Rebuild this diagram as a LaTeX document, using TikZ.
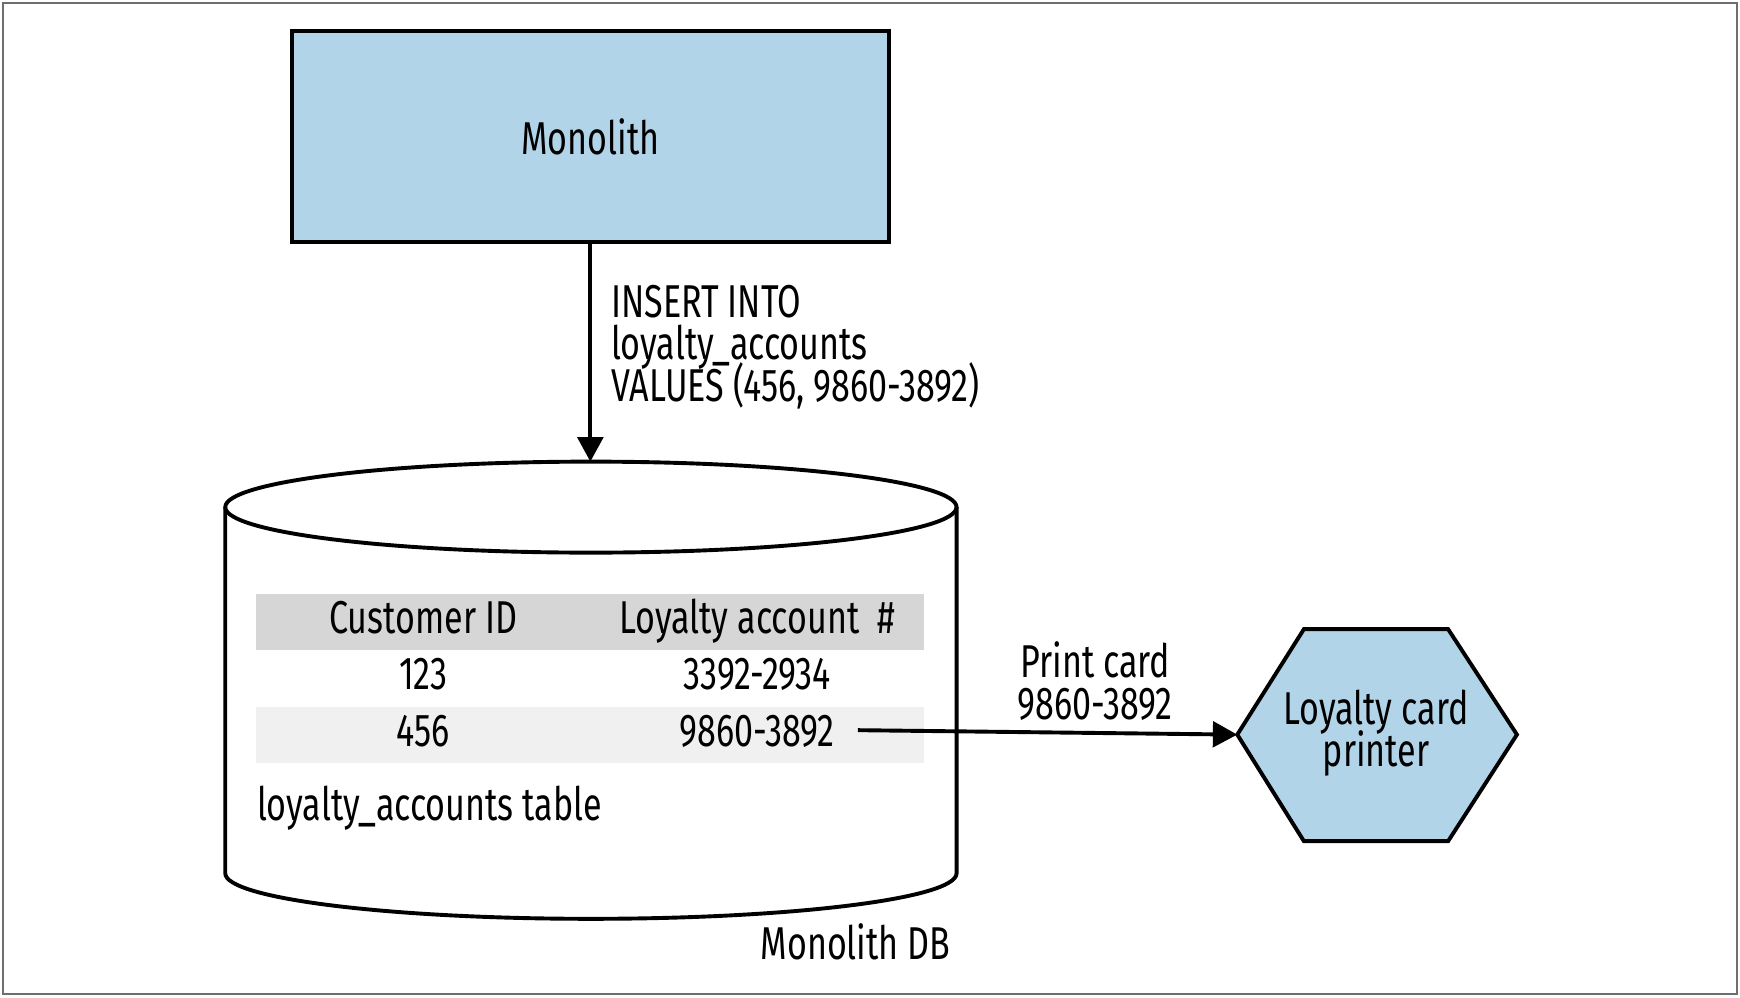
\documentclass[tikz,border=0pt]{standalone}
\usepackage{fontspec}
\setmainfont{Fira Sans}[FakeStretch=0.74]
\usetikzlibrary{arrows.meta}
\definecolor{monoblue}{HTML}{B2D4E9}
\definecolor{tblhead}{HTML}{D6D6D6}
\definecolor{tblrow}{HTML}{F0F0F0}
\definecolor{framegray}{HTML}{6E6E6E}
\newcommand\labelfont{\fontsize{11.8pt}{10.7pt}\selectfont\lineskiplimit=-20pt\relax}
\tikzset{
  every node/.style={font=\labelfont},
  box/.style={draw,line width=1pt,fill=monoblue,minimum width=5.38cm,minimum height=1.9cm},
  cell/.style={minimum width=3.01cm,minimum height=0.51cm,inner sep=0pt,text height=0.3cm,text depth=0.1cm},
  link/.style={line width=1pt,-{Triangle[length=0.22cm,width=0.23cm]}}
}

\begin{document}
\begin{tikzpicture}[x=0.01cm,y=0.01cm]
    \useasboundingbox (0,0) rectangle (1568,899);
    \draw[framegray,line width=0.6pt] (3,3) rectangle (1565,896);
    \node[box] (mono) at (532,776) {Monolith};
    % database
    \draw[line width=1pt] (203,442) -- (203,112) arc[start angle=180,end angle=360,x radius=329.5,y radius=41] -- (862,442);
    \draw[line width=1pt] (532.5,442) ellipse[x radius=329.5,y radius=41];
    \coordinate (dbtop) at (532,483);
    \node[anchor=west,align=left,inner sep=0pt] (sql) at (550,586) {INSERT INTO\\loyalty\_accounts\\VALUES (456, 9860-3892)};
    \foreach \r/\y/\a/\b/\c in {
      hd/338.5/Customer ID/{Loyalty account\ \ \#}/tblhead,
      ra/287.5/123/3392-2934/white,
      rb/236.5/456/9860-3892/tblrow}{
      \node[cell,fill=\c] (\r-id) at (381.5,\y) {\a};
      \node[cell,fill=\c] (\r-acc) at (682.5,\y) {\b};
    }
    \node[anchor=west,inner sep=0pt] (tblname) at (231,171) {loyalty\_accounts table};
    \node (dbname) at (771,50) {Monolith DB};
    % printer
    \draw[line width=1pt,fill=monoblue] (1115,237) coordinate (hexw) -- (1175,332) -- (1305,332)
      -- (1367,237) -- (1305,141) -- (1175,141) -- cycle;
    \node[align=center] (printer) at (1240,238) {Loyalty card\\printer};
    \coordinate (cardsrc) at (773,241);
    \draw[link] (mono.south) -- (dbtop);
    \draw[link] (cardsrc) -- (hexw);
    \node[align=center] (printlbl) at (987,285.5) {Print card\\9860-3892};
\end{tikzpicture}
\end{document}
